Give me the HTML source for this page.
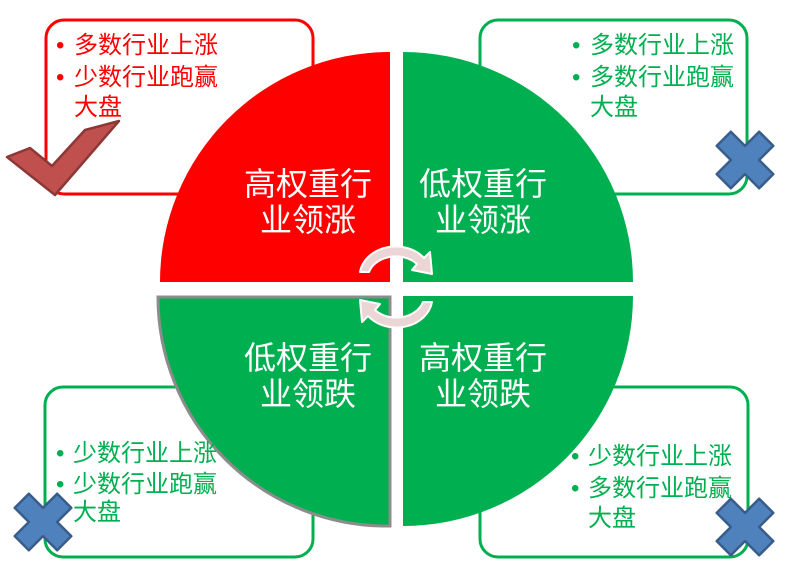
<!DOCTYPE html>
<html><head><meta charset="utf-8"><style>
html,body{margin:0;padding:0;background:#fff;}
svg{display:block;}
text{font-family:"Liberation Sans","Noto Sans CJK SC",sans-serif;}
</style></head><body>
<svg width="789" height="561" viewBox="0 0 789 561" xmlns="http://www.w3.org/2000/svg">
<defs>
<polygon id="xs" points="-10,-30 10,-30 10,-10 30,-10 30,10 10,10 10,30 -10,30 -10,10 -30,10 -30,-10 -10,-10" fill="#4f81bd" stroke="#385d8a" stroke-width="2.5" stroke-linejoin="round"/>
</defs>
<rect x="46" y="20" width="267" height="174" rx="18" fill="#fff" stroke="#ff0000" stroke-width="3"/>
<rect x="480" y="20" width="267" height="174" rx="18" fill="#fff" stroke="#00b050" stroke-width="3"/>
<rect x="45" y="387" width="268" height="170" rx="18" fill="#fff" stroke="#00b050" stroke-width="3"/>
<rect x="480" y="387" width="268" height="170" rx="18" fill="#fff" stroke="#00b050" stroke-width="3"/>
<path d="M390,282 L160,282 A230,230 0 0 1 390,52 Z" fill="#ff0000"/>
<path d="M403,282 L403,52 A230,230 0 0 1 633,282 Z" fill="#00b050"/>
<path d="M390,297 L390,526 A229,229 0 0 1 158,297 Z" fill="#00b050" stroke="#8c8c8c" stroke-width="3"/>
<path d="M403,296 L633,296 A230,230 0 0 1 403,526 Z" fill="#00b050"/>
<g fill="#fff" font-size="32" text-anchor="middle">
<text x="308" y="195">高权重行</text><text x="308" y="231">业领涨</text>
<text x="483" y="195">低权重行</text><text x="483" y="231">业领涨</text>
<text x="308" y="369">低权重行</text><text x="308" y="405">业领跌</text>
<text x="483" y="369">高权重行</text><text x="483" y="405">业领跌</text>
</g>
<g fill="#ecd5d5" stroke="#fff" stroke-width="2" stroke-linejoin="round">
<path d="M360,272 A36,30 0 0 1 424,258 L430,252 L432,274 L412,270 L417,264 A28,22 0 0 0 369,272 Z"/>
<path d="M432,302 A36,30 0 0 1 368,316 L362,322 L360,300 L380,304 L375,310 A28,22 0 0 0 423,302 Z"/>
</g>
<g font-size="24" fill="#ff0000">
<text x="56" y="53">•</text><text x="74" y="53">多数行业上涨</text>
<text x="56" y="85">•</text><text x="74" y="85">少数行业跑赢</text>
<text x="74" y="115">大盘</text>
</g>
<g font-size="24" fill="#00b050">
<text x="572" y="53">•</text><text x="590" y="53">多数行业上涨</text>
<text x="572" y="85">•</text><text x="590" y="85">多数行业跑赢</text>
<text x="590" y="115">大盘</text>
<text x="56" y="461">•</text><text x="73" y="461">少数行业上涨</text>
<text x="56" y="492">•</text><text x="73" y="492">少数行业跑赢</text>
<text x="73" y="520">大盘</text>
<text x="571" y="464">•</text><text x="588" y="464">少数行业上涨</text>
<text x="571" y="496">•</text><text x="588" y="496">多数行业跑赢</text>
<text x="588" y="526">大盘</text>
</g>
<polygon points="7,157 30,148 52,166 85,130 119,121 55,195" fill="#c0504d" stroke="#8c3836" stroke-width="2.5" stroke-linejoin="round"/>
<use href="#xs" transform="translate(745,160) rotate(45)"/>
<use href="#xs" transform="translate(43,522) rotate(45)"/>
<use href="#xs" transform="translate(745,527) rotate(45)"/>
</svg>
</body></html>
